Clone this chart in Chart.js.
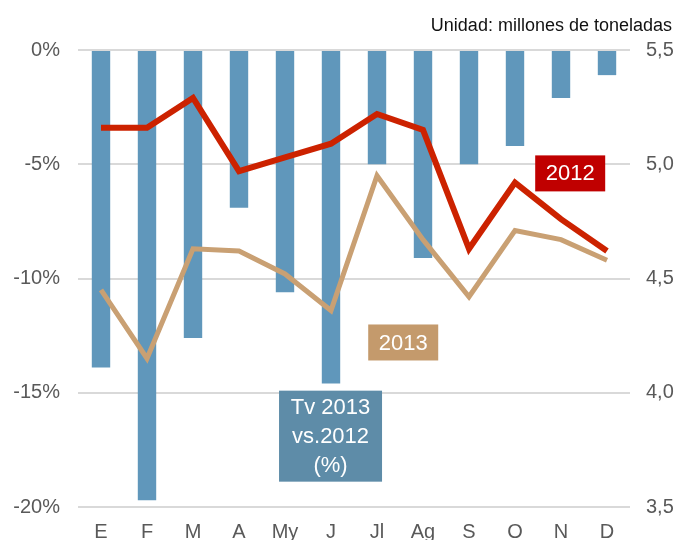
<!DOCTYPE html>
<html>
<head>
<meta charset="utf-8">
<script src="https://cdn.jsdelivr.net/npm/chart.js@4"></script>
<style>
  body { margin: 0; background: #fff; }
  #wrap { width: 681px; height: 540px; }
</style>
</head>
<body>
<div id="wrap"><canvas id="tvChart" width="681" height="540"></canvas></div>
<script>
const months = ["E", "F", "M", "A", "My", "J", "Jl", "Ag", "S", "O", "N", "D"];
// variación 2013 vs 2012 (%)
const tvRate = [-13.9, -19.7, -12.6, -6.9, -10.6, -14.6, -5.0, -9.1, -5.0, -4.2, -2.1, -1.1];
// millones de toneladas
const tons2012 = [5.16, 5.16, 5.29, 4.97, 5.03, 5.09, 5.22, 5.15, 4.63, 4.92, 4.76, 4.62];
const tons2013 = [4.45, 4.15, 4.63, 4.62, 4.52, 4.36, 4.95, 4.67, 4.42, 4.71, 4.67, 4.58];

const FONT = "'Liberation Sans', Arial, sans-serif";
const GRAY = "#595959";

// boxed labels placed in data space (x index, right axis value)
const boxLabels = [
  { lines: ["2012"], x: 10.2, y: 4.96, w: 70, h: 36, color: "#c00000" },
  { lines: ["2013"], x: 6.57, y: 4.22, w: 70, h: 36, color: "#c49a6c" },
  { lines: ["Tv 2013", "vs.2012", "(%)"], x: 4.99, y: 3.81, w: 103, h: 91, color: "#5e8ca8" },
];

const extras = {
  id: "extras",
  afterDatasetsDraw(chart) {
    const { ctx, scales } = chart;
    ctx.save();
    ctx.font = "22px " + FONT;
    ctx.textAlign = "center";
    ctx.textBaseline = "middle";
    boxLabels.forEach((b) => {
      const cx = scales.x.getPixelForValue(b.x);
      const cy = scales.y1.getPixelForValue(b.y);
      ctx.fillStyle = b.color;
      ctx.fillRect(cx - b.w / 2, cy - b.h / 2, b.w, b.h);
      ctx.fillStyle = "#fff";
      const lh = 29;
      b.lines.forEach((t, i) => {
        ctx.fillText(t, cx, cy + (i - (b.lines.length - 1) / 2) * lh + 1);
      });
    });
    // unit note
    ctx.font = "18px " + FONT;
    ctx.textAlign = "right";
    ctx.textBaseline = "alphabetic";
    ctx.fillStyle = "#111";
    ctx.fillText("Unidad: millones de toneladas", 672, 31);
    ctx.restore();
  },
};

new Chart(document.getElementById("tvChart").getContext("2d"), {
  type: "bar",
  data: {
    labels: months,
    datasets: [
      {
        type: "line",
        label: "2012",
        data: tons2012,
        yAxisID: "y1",
        borderColor: "#cc2200",
        borderWidth: 6,
        pointRadius: 0,
        tension: 0,
        order: 1,
      },
      {
        type: "line",
        label: "2013",
        data: tons2013,
        yAxisID: "y1",
        borderColor: "#c9a073",
        borderWidth: 5,
        pointRadius: 0,
        tension: 0,
        order: 2,
      },
      {
        label: "Tv 2013 vs.2012 (%)",
        data: tvRate,
        yAxisID: "y",
        backgroundColor: "#6097bb",
        categoryPercentage: 1,
        barPercentage: 0.4,
        order: 3,
      },
    ],
  },
  options: {
    responsive: false,
    animation: false,
    layout: { padding: { top: 50, left: 0, right: 0, bottom: 0 } },
    plugins: {
      legend: { display: false },
      tooltip: { enabled: false },
    },
    scales: {
      x: {
        grid: { display: false, drawTicks: false },
        border: { display: false },
        ticks: { color: GRAY, font: { family: FONT, size: 20 }, padding: 13 },
        afterFit: (s) => { s.height = 33; },
      },
      y: {
        position: "left",
        min: -20,
        max: 0,
        ticks: {
          stepSize: 5,
          color: GRAY,
          font: { family: FONT, size: 20 },
          padding: 18,
          callback: (v) => v + "%",
        },
        grid: { color: "#d9d9d9", lineWidth: 2, drawTicks: false },
        border: { display: false },
        afterFit: (s) => { s.width = 78; },
      },
      y1: {
        position: "right",
        min: 3.5,
        max: 5.5,
        ticks: {
          stepSize: 0.5,
          color: GRAY,
          font: { family: FONT, size: 20 },
          padding: 16,
          callback: (v) => v.toFixed(1).replace(".", ","),
        },
        grid: { drawOnChartArea: false, drawTicks: false },
        border: { display: false },
        afterFit: (s) => { s.width = 51; },
      },
    },
  },
  plugins: [extras],
});
</script>
</body>
</html>
